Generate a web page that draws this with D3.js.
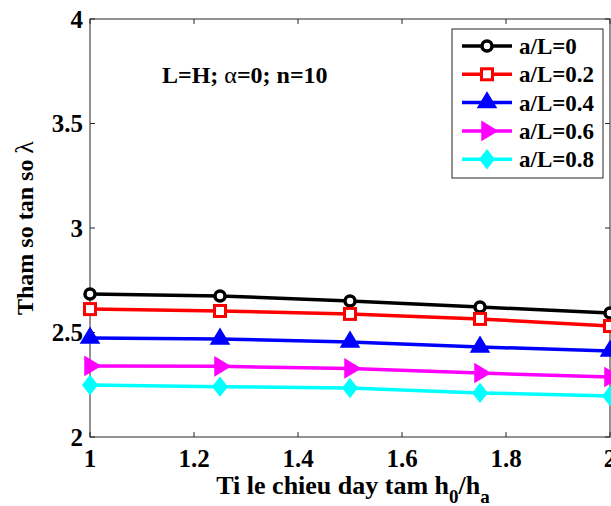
<!DOCTYPE html>
<meta charset="utf-8">
<html>
  <head>
    <title>Tham so tan so</title>
    <script src="https://d3js.org/d3.v7.min.js"></script>
    <style>
      body {
        margin: 0;
        background: #fff;
      }
      svg {
        font-family: "Liberation Serif", "Times New Roman", serif;
        font-weight: bold;
      }
      .frame line, .frame rect {
        stroke: #262626;
        stroke-width: 1px;
      }
    </style>
  </head>
  <body>
    <svg id="chart" width="611" height="506"></svg>

    <script>
      // Du lieu doc tu hinh
      const xValues = [1, 1.25, 1.5, 1.75, 2];
      const seriesNames = ["a/L=0", "a/L=0.2", "a/L=0.4", "a/L=0.6", "a/L=0.8"];
      const s0 = [2.684, 2.675, 2.651, 2.622, 2.593];
      const s02 = [2.612, 2.603, 2.589, 2.565, 2.531];
      const s04 = [2.474, 2.469, 2.455, 2.431, 2.411];
      const s06 = [2.340, 2.338, 2.328, 2.306, 2.287];
      const s08 = [2.249, 2.241, 2.234, 2.211, 2.196];
      const xTicks = [1, 1.2, 1.4, 1.6, 1.8, 2];
      const yTicks = [2, 2.5, 3, 3.5, 4];

      const seriesValues = [s0, s02, s04, s06, s08];
      const colors = ["#000000", "#ff0000", "#0000ff", "#ff00ff", "#00ffff"];
      const markers = ["circle", "square", "triangle", "right", "diamond"];

      const mLeft = 90, mRight = 610, mTop = 19, mBottom = 437;

      const svg = d3.select("#chart");

      const x = d3.scaleLinear().domain([1, 2]).range([mLeft, mRight]);
      const y = d3.scaleLinear().domain([2, 4]).range([mBottom, mTop]);

      // Khung va vach chia
      const frame = svg.append("g").attr("class", "frame");
      frame.append("rect")
        .attr("x", mLeft).attr("y", mTop)
        .attr("width", mRight - mLeft).attr("height", mBottom - mTop)
        .attr("fill", "none");

      const tickLen = 5;
      xTicks.forEach(t => {
        frame.append("line").attr("x1", x(t)).attr("x2", x(t)).attr("y1", mBottom).attr("y2", mBottom - tickLen);
        frame.append("line").attr("x1", x(t)).attr("x2", x(t)).attr("y1", mTop).attr("y2", mTop + tickLen);
      });
      yTicks.forEach(t => {
        frame.append("line").attr("x1", mLeft).attr("x2", mLeft + tickLen).attr("y1", y(t)).attr("y2", y(t));
        frame.append("line").attr("x1", mRight).attr("x2", mRight - tickLen).attr("y1", y(t)).attr("y2", y(t));
      });

      // Nhan truc
      svg.append("g").selectAll("text")
        .data(xTicks)
        .enter()
        .append("text")
          .attr("x", d => x(d))
          .attr("y", 467)
          .attr("text-anchor", "middle")
          .attr("font-size", 25)
          .text(d => d3.format("")(d));

      svg.append("g").selectAll("text")
        .data(yTicks)
        .enter()
        .append("text")
          .attr("x", 83)
          .attr("y", d => y(d) + 8.5)
          .attr("text-anchor", "end")
          .attr("font-size", 25)
          .text(d => d3.format("")(d));

      const xl = svg.append("text")
        .attr("x", 353)
        .attr("y", 494)
        .attr("text-anchor", "middle")
        .attr("font-size", 26);
      xl.append("tspan").text("Ti le chieu day tam h");
      xl.append("tspan").attr("dy", 9).attr("font-size", 19).text("0");
      xl.append("tspan").attr("dy", -9).text("/h");
      xl.append("tspan").attr("dy", 9).attr("font-size", 19).text("a");

      const yl = svg.append("text")
        .attr("transform", "translate(33,228) rotate(-90)")
        .attr("text-anchor", "middle")
        .attr("font-size", 24);
      yl.append("tspan").text("Tham so tan so  ");
      yl.append("tspan").attr("font-weight", "normal").attr("font-size", 26).text("λ");

      // Chu thich tham so
      const note = svg.append("text")
        .attr("x", 162)
        .attr("y", 83)
        .attr("font-size", 24);
      note.append("tspan").text("L=H; ");
      note.append("tspan").attr("font-weight", "normal").text("α");
      note.append("tspan").text("=0; n=10");

      // Ve marker
      function drawMarker(g, type, cx, cy, color) {
        if (type === "circle") {
          g.append("circle").attr("cx", cx).attr("cy", cy).attr("r", 5)
            .attr("fill", "#fff").attr("stroke", color).attr("stroke-width", 3.5);
        } else if (type === "square") {
          g.append("rect").attr("x", cx - 5.5).attr("y", cy - 5.5).attr("width", 11).attr("height", 11)
            .attr("fill", "#fff").attr("stroke", color).attr("stroke-width", 3);
        } else if (type === "triangle") {
          g.append("path").attr("d", `M${cx},${cy - 10}L${cx + 9},${cy + 5}L${cx - 9},${cy + 5}Z`)
            .attr("fill", color).attr("stroke", color).attr("stroke-width", 1.5);
        } else if (type === "right") {
          g.append("path").attr("d", `M${cx + 10},${cy}L${cx - 5},${cy - 9}L${cx - 5},${cy + 9}Z`)
            .attr("fill", color).attr("stroke", color).attr("stroke-width", 1.5);
        } else {
          g.append("path").attr("d", `M${cx},${cy - 9}L${cx + 7},${cy}L${cx},${cy + 9}L${cx - 7},${cy}Z`)
            .attr("fill", color).attr("stroke", color).attr("stroke-width", 1.5);
        }
      }

      const line = d3.line().x((d, i) => x(xValues[i])).y(d => y(d));

      seriesValues.forEach((vals, k) => {
        const g = svg.append("g");
        g.append("path")
          .datum(vals)
          .attr("d", line)
          .attr("fill", "none")
          .attr("stroke", colors[k])
          .attr("stroke-width", 3.5);
        vals.forEach((v, i) => drawMarker(g, markers[k], x(xValues[i]), y(v), colors[k]));
      });

      // Chu giai
      const legend = svg.append("g");
      legend.append("rect")
        .attr("x", 452).attr("y", 29)
        .attr("width", 151).attr("height", 149)
        .attr("fill", "#fff").attr("stroke", "#262626").attr("stroke-width", 1);

      seriesNames.forEach((name, k) => {
        const ly = 46 + k * 28.3;
        legend.append("line")
          .attr("x1", 462).attr("x2", 512)
          .attr("y1", ly).attr("y2", ly)
          .attr("stroke", colors[k]).attr("stroke-width", 3.5);
        drawMarker(legend, markers[k], 487, ly, colors[k]);
        legend.append("text")
          .attr("x", 519)
          .attr("y", ly + 8)
          .attr("font-size", 23)
          .text(name);
      });
    </script>
  </body>
</html>
